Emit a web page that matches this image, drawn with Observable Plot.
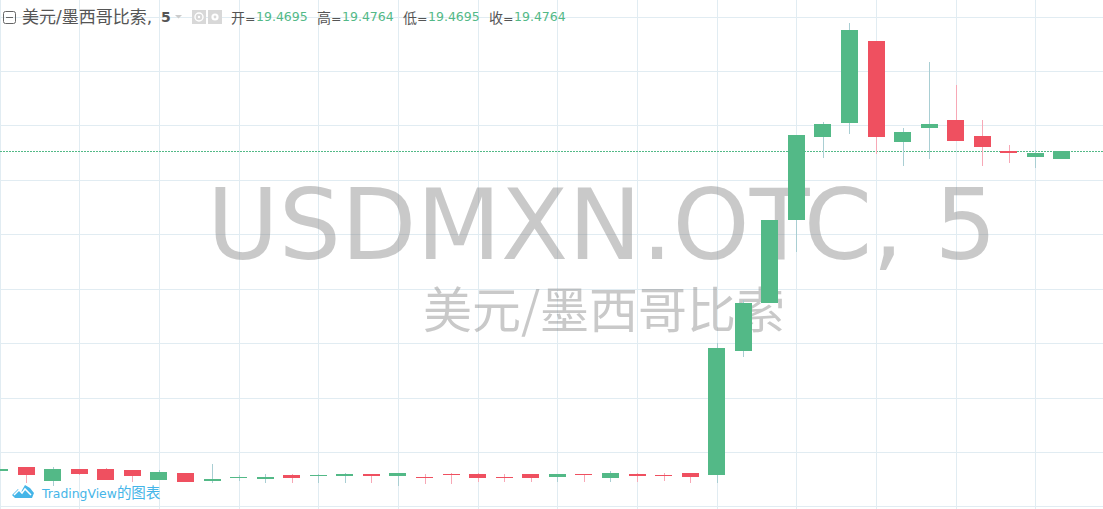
<!DOCTYPE html>
<html><head><meta charset="utf-8">
<script src="https://cdn.jsdelivr.net/npm/d3@7"></script>
<script src="https://cdn.jsdelivr.net/npm/@observablehq/plot@0.6"></script>
<style>
html,body{margin:0;padding:0;background:#fff;overflow:hidden}
#wrap{position:relative;width:1103px;height:509px;font-family:"DejaVu Sans","Noto Sans CJK SC",sans-serif}
#wrap svg.plot{display:block}
.h{position:absolute;top:8px;font-size:12.5px;line-height:18px;color:#555;white-space:nowrap}
.n{font-size:17px}
.c{font-family:"Noto Sans CJK SC",sans-serif;font-size:14px}
.g{color:#53b987}
#logo{position:absolute;left:12px;top:483px;font-size:12.4px;line-height:18px;color:#45b5e8;white-space:nowrap}
</style></head><body>
<div id="wrap"></div>
<script>
const opens  = [19.1825,19.1862,19.1733,19.1843,19.1843,19.1834,19.1742,19.1806,19.1733,19.1760,19.1751,19.1788,19.1779,19.1779,19.1797,19.1779,19.1770,19.1797,19.1797,19.1770,19.1797,19.1770,19.1797,19.1760,19.1797,19.1788,19.1806,19.1788,19.2928,19.3369,19.4132,19.4894,19.5023,19.5777,19.4848,19.4977,19.5051,19.4904,19.4766,19.4711,19.4695];
const closes = [19.1843,19.1788,19.1843,19.1797,19.1742,19.1779,19.1816,19.1724,19.1751,19.1770,19.1770,19.1760,19.1788,19.1797,19.1779,19.1806,19.1760,19.1788,19.1760,19.1760,19.1760,19.1797,19.1788,19.1806,19.1779,19.1779,19.1770,19.2955,19.3369,19.4132,19.4913,19.5014,19.5878,19.4894,19.4940,19.5014,19.4858,19.4802,19.4747,19.4747,19.4764];
const highs  = [19.1843,19.1862,19.1862,19.1843,19.1852,19.1834,19.1834,19.1806,19.1889,19.1788,19.1797,19.1797,19.1797,19.1806,19.1797,19.1806,19.1797,19.1806,19.1806,19.1797,19.1797,19.1797,19.1797,19.1825,19.1806,19.1806,19.1806,19.3001,19.3396,19.4132,19.4913,19.5032,19.5942,19.5777,19.4977,19.5584,19.5372,19.5051,19.4821,19.4775,19.4764];
const lows   = [19.1825,19.1714,19.1687,19.1788,19.1742,19.1724,19.1742,19.1724,19.1714,19.1733,19.1714,19.1714,19.1714,19.1714,19.1714,19.1687,19.1705,19.1705,19.1724,19.1724,19.1724,19.1724,19.1724,19.1724,19.1724,19.1733,19.1714,19.1714,19.2873,19.3369,19.3837,19.4701,19.4922,19.4738,19.4628,19.4692,19.4858,19.4628,19.4655,19.4609,19.4695];
const priceTicks = [19.15,19.2,19.25,19.3,19.35,19.4,19.45,19.5,19.55,19.6];
const timeTicks = [0,3,6,9,12,15,18,21,24,27,30,33,36,39];
const lastPrice = 19.4764;
const watermark = "USDMXN.OTC, 5";
const watermarkSub = "美元/墨西哥比索";
const legendName = "美元/墨西哥比索,";
const legendInterval = "5";
const ohlcLabels = ["开","高","低","收"];
const ohlcValues = ["19.4695","19.4764","19.4695","19.4764"];
const creditLatin = "TradingView";
const creditCjk = "的图表";

const candles = opens.map((o,i)=>({i,o,c:closes[i],h:highs[i],l:lows[i],up:closes[i]>=o}));
const GREEN="#53b987",RED="#ef5060",GRID="#e1ecf2";
const halfBody=0.32;
const crisp={shapeRendering:"crispEdges"};

const chart = Plot.plot({
  width:1103,height:509,
  margin:0,
  style:{background:"#fff",overflow:"hidden"},
  x:{domain:[0.015,41.545],range:[0,1103],axis:null},
  y:{domain:[19.1476,19.6153],range:[509,0],axis:null},
  marks:[
    Plot.ruleY(priceTicks,{stroke:GRID,strokeWidth:1,...crisp}),
    Plot.ruleX(timeTicks,{stroke:GRID,strokeWidth:1,...crisp}),
    Plot.text([watermark],{text:d=>d,frameAnchor:"middle",dx:50,dy:-27,fontSize:98,fill:"#888",fillOpacity:0.45,fontFamily:"'DejaVu Sans',sans-serif"}),
    Plot.text([watermarkSub],{text:d=>d,frameAnchor:"middle",dx:52,dy:57,fontSize:49,fill:"#888",fillOpacity:0.45,fontFamily:"'Noto Sans CJK SC',sans-serif"}),
    Plot.ruleY([lastPrice],{stroke:GREEN,strokeWidth:1,strokeDasharray:"2 1",...crisp}),
    Plot.ruleX(candles,{x:"i",y1:"l",y2:"h",stroke:d=>d.up?"#a9ced3":"#f7a8b6",strokeWidth:1,...crisp}),
    Plot.rect(candles,{x1:d=>d.i-halfBody,x2:d=>d.i+halfBody,y1:"o",y2:"c",fill:d=>d.up?GREEN:RED,...crisp})
  ]
});
const wrap=document.getElementById("wrap");
wrap.appendChild(chart);

function h(left,html,cls){const s=document.createElement("div");s.className="h"+(cls?" "+cls:"");s.style.left=left+"px";s.innerHTML=html;wrap.appendChild(s);}
h(3,`<svg width="13" height="13" style="display:block;margin-top:3px"><rect x=".5" y=".5" width="12" height="12" rx="2" fill="none" stroke="#666"/><path d="M3 6.5h7" stroke="#666"/></svg>`);
h(22,legendName,"n");
h(161,`<b style="font-size:14px">${legendInterval}</b>`);
h(174,`<svg width="10" height="10" style="display:block;margin-top:4px"><path d="M1 3h7l-3.5 3.5z" fill="#ccc"/></svg>`);
h(192,`<svg width="31" height="14" style="display:block;margin-top:2px"><rect width="14" height="14" fill="#d8d8d8"/><circle cx="7" cy="7" r="4" fill="none" stroke="#fff" stroke-width="1.4"/><circle cx="7" cy="7" r="1.2" fill="#fff"/><rect x="16" width="14" height="14" fill="#d8d8d8"/><circle cx="23" cy="7" r="3.6" fill="#fff"/><circle cx="23" cy="7" r="1.4" fill="#d8d8d8"/></svg>`);
[[231,256],[317,342],[403,428],[489,514]].forEach(([a,b],k)=>{
  h(a,`<span class="c">${ohlcLabels[k]}</span>=`);
  h(b,ohlcValues[k],"g");
});
const logo=document.createElement("div");
logo.id="logo";
logo.innerHTML=`<svg width="23" height="15" style="position:absolute;left:0;top:1px"><path d="M0 11 6 5 9 8 13 1 18 4 22 9 20 14 3 14Z" fill="#45b5e8"/><path d="M2 11 7 6 10 9 13 5 19 11" fill="none" stroke="#fff" stroke-width="1.5"/></svg><span style="margin-left:30px">${creditLatin}<span class="c" style="font-size:14.5px">${creditCjk}</span></span>`;
wrap.appendChild(logo);
</script>
</body></html>
